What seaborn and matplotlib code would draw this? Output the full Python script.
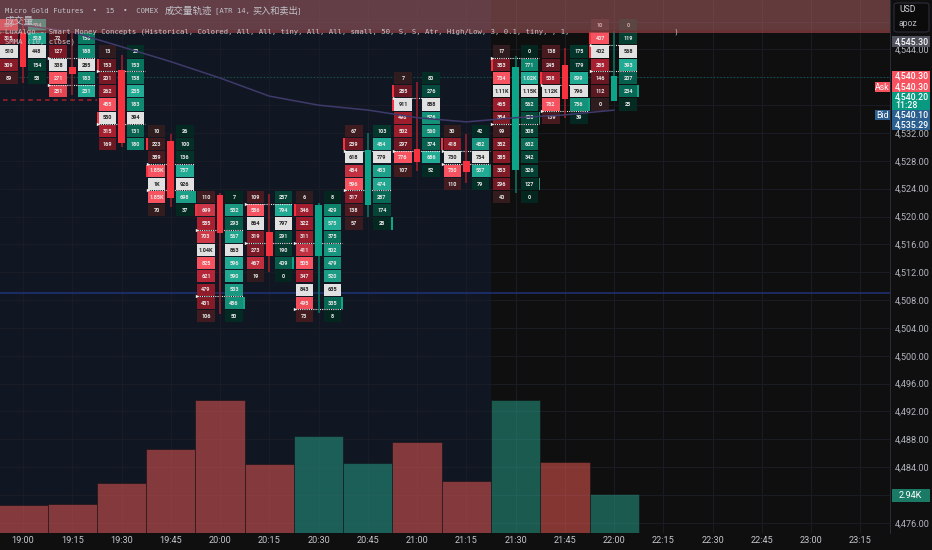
import numpy as np
import pandas as pd
import matplotlib.pyplot as plt
from matplotlib.patches import FancyBboxPatch, Rectangle
import seaborn as sns

# time axis
hours = ['19:00', '19:15', '19:30', '19:45', '20:00', '20:15', '20:30', '20:45', '21:00',
         '21:15', '21:30', '21:45', '22:00', '22:15', '22:30', '22:45', '23:00', '23:15']
bars = hours[:13]

# candles
opens = [4546.5, 4541.5, 4541.0, 4530.9, 4523.1, 4517.8, 4514.4, 4521.6, 4529.7, 4528.0, 4526.7, 4541.7, 4536.6]
closes = [4541.5, 4540.5, 4530.6, 4522.6, 4517.7, 4514.4, 4521.7, 4529.5, 4527.9, 4526.4, 4541.5, 4536.9, 4540.2]
highs = [4548.6, 4546.5, 4543.2, 4531.9, 4523.4, 4523.2, 4522.0, 4532.0, 4539.4, 4531.9, 4543.0, 4544.2, 4546.6]
lows = [4539.2, 4537.5, 4530.0, 4521.4, 4506.0, 4512.1, 4506.1, 4519.9, 4526.6, 4524.8, 4523.4, 4534.2, 4536.6]

# volume (thousands)
volume = [2.09, 2.16, 3.74, 6.33, 10.05, 5.20, 7.31, 5.30, 6.89, 3.92, 10.05, 5.38, 2.94]
direction = ['down', 'down', 'down', 'down', 'down', 'down', 'up', 'up', 'down', 'down', 'up', 'down', 'up']

# footprint rows, top row price of every bar then sell / buy per row
top_price = [4547.5, 4545.6, 4543.7, 4532.3, 4522.8, 4522.8, 4522.8, 4532.3, 4539.9, 4532.3, 4543.7, 4543.7, 4547.5]
sells = [
    [569, 315, 510, 309, 89],
    [72, 127, 338, 271, 251],
    [13, 153, 201, 262, 455, 550, 315, 169],
    [10, 223, 359, 1850, 1000, 1850, 70],
    [110, 699, 585, 703, 1040, 825, 621, 479, 431, 106],
    [109, 586, 864, 319, 273, 467, 19],
    [6, 346, 322, 311, 411, 505, 347, 843, 495, 73],
    [67, 239, 618, 484, 596, 317, 138, 57],
    [7, 285, 911, 498, 502, 297, 776, 107],
    [30, 418, 730, 730, 110],
    [17, 353, 734, 1110, 465, 354, 99, 352, 385, 353, 296, 40],
    [138, 245, 538, 1120, 782, 139],
    [10, 407, 402, 285, 146, 112, 0],
]
buys = [
    [534, 518, 448, 154, 58],
    [158, 188, 285, 183, 231],
    [29, 153, 158, 235, 183, 394, 131, 180],
    [26, 100, 136, 757, 926, 698, 37],
    [7, 532, 293, 567, 863, 596, 590, 533, 486, 50],
    [257, 794, 797, 291, 190, 409, 0],
    [8, 429, 575, 375, 502, 479, 520, 635, 335, 8],
    [103, 484, 779, 453, 474, 287, 174, 28],
    [80, 276, 888, 576, 560, 374, 686, 52],
    [42, 482, 754, 557, 79],
    [0, 771, 1020, 1150, 562, 408, 308, 632, 342, 326, 127, 0],
    [175, 179, 899, 796, 756, 39],
    [0, 119, 568, 393, 207, 234, 25],
]
poc_rows = [2, 2, 5, 4, 4, 2, 7, 2, 2, 2, 3, 3, 2]
value_area = [(1, None), (2, 4), (2, 6), (3, 5), (3, 8), (1, 4), (4, 9), (2, 5), (2, 6), (2, 3), (1, 6), (3, 5), (2, 4)]
sell_marks = [(0, 1), (2, 1), (2, 5), (3, 1), (3, 3), (4, 1), (6, 1), (7, 1), (8, 1), (8, 2), (9, 1), (10, 1), (11, 2), (12, 1), (12, 2)]
buy_marks = [(3, 5), (4, 8), (5, 5), (6, 8), (7, 7), (9, 3), (10, 5), (10, 10), (11, 4), (12, 5)]

# SMMA (10, close)
smma = [4547.5, 4546.5, 4544.4, 4542.25, 4539.9, 4537.3, 4536.0, 4535.3, 4534.2, 4533.6, 4534.2, 4534.6, 4535.29]

price_ticks = [4476, 4484, 4488, 4492, 4496, 4500, 4504, 4508, 4512, 4516, 4520, 4524, 4528, 4532, 4544]
grid_prices = [4476, 4480, 4484, 4488, 4492, 4496, 4500, 4504, 4508, 4512, 4516, 4520, 4524, 4528, 4532, 4536, 4540, 4544, 4548]

ROW = 1.9
BG = '#111722'
DARK = '#0f0f0f'
RED = '#f7323f'
GREEN = '#0ca58a'

red_shades = sns.blend_palette(['#2f1c1e', '#6e1823', '#a81f30', '#f7525f'], 101)
green_shades = sns.blend_palette(['#04261f', '#05483a', '#0a7d65', '#22ab94'], 101)

sns.set_theme(style='dark')
plt.rcParams['font.family'] = ['Roboto', 'DejaVu Sans']

fig = plt.figure(figsize=(9.32, 5.5), dpi=100, facecolor=DARK)
rect = [0, 17 / 550, 890 / 932, 533 / 550]
ax = fig.add_axes(rect, facecolor=BG, zorder=0)
ax.set_xlim(-0.467, 17.6)
ax.set_ylim(4474.53, 4551.11)

ax.axvspan(9.5, 17.6, color=DARK, lw=0, zorder=0)
ax.hlines(grid_prices, -0.467, 17.6, color='#1a1d26', lw=0.7, zorder=0.5)
ax.vlines(range(18), 4474.53, 4551.11, color='#1a1d26', lw=0.7, zorder=0.5)

# volume underneath the candles
vol_ax = fig.add_axes(rect, facecolor='none', zorder=1)
df = pd.DataFrame({'bar': bars, 'volume': volume, 'direction': direction})
sns.barplot(data=df, x='bar', y='volume', hue='direction', dodge=False, width=1.0, alpha=0.5, saturation=1,
            palette={'down': '#f75d56', 'up': '#27a58e'}, edgecolor='#0c0e13', linewidth=0.7,
            legend=False, ax=vol_ax)
vol_ax.set_xlim(-0.467, 17.6)
vol_ax.set_ylim(0, 10.05 * 533 / 133.3)
vol_ax.axis('off')

# top layer for footprint so that it stays over the volume panel
fp = fig.add_axes(rect, facecolor='none', zorder=2)
fp.set_xlim(-0.467, 17.6)
fp.set_ylim(4474.53, 4551.11)
fp.axis('off')


def short(v):
    if v >= 1000:
        return f'{v / 1000:.2f}'.rstrip('0').rstrip('.') + 'K'
    return str(v)


for i, (top, sell, buy, poc) in enumerate(zip(top_price, sells, buys, poc_rows)):
    for side, vals, shades, off in ((0, sell, red_shades, -0.285), (1, buy, green_shades, 0.285)):
        rest = [v for r, v in enumerate(vals) if r != poc]
        ref = max(rest)
        for r, v in enumerate(vals):
            price = top - ROW * r
            if r == poc:
                col, txt = '#e1e1e1', '#222222'
            else:
                col, txt = shades[int(100 * (v / ref) ** 1.15)], '#e8e8e8'
            fp.bar(i + off, ROW * 0.92, bottom=price - ROW * 0.46, width=0.355, color=col, lw=0, zorder=3)
            fp.text(i + off, price - 0.03, short(v), color=txt, fontsize=4.0, fontweight='bold',
                    ha='center', va='center', zorder=4)

    # value area lines
    for r in value_area[i]:
        if r is None:
            continue
        y = top + ROW / 2 - ROW * r
        fp.plot([i - 0.47, i + 0.47], [y, y], ls=(0, (1, 1)), color='#e6e6e6', lw=0.8, zorder=5)
        fp.plot(i - 0.47, y, marker='>', ms=2.4, color='#f0f0f0', mew=0, zorder=5)

for i, r in sell_marks:
    fp.bar(i - 0.485, ROW * 0.92, bottom=top_price[i] - ROW * r - ROW * 0.46, width=0.04, color=RED, lw=0, zorder=3)
for i, r in buy_marks:
    fp.bar(i + 0.485, ROW * 0.92, bottom=top_price[i] - ROW * r - ROW * 0.46, width=0.04, color=GREEN, lw=0, zorder=3)

# candles
for i in range(len(bars)):
    col = GREEN if closes[i] >= opens[i] else RED
    wick = '#067a67' if closes[i] >= opens[i] else '#a11f2c'
    fp.vlines(i, lows[i], highs[i], color=wick, lw=1.1, zorder=6)
    fp.bar(i, abs(closes[i] - opens[i]), bottom=min(opens[i], closes[i]), width=0.135, color=col, lw=0, zorder=7)

# overlays
fp.plot(range(13), smma, color='#3f3a6b', lw=1.1, zorder=8)
fp.hlines(4509.0, -0.467, 17.6, color='#1f3278', lw=1.1, zorder=2)
fp.hlines(4540.0, -0.467, 17.6, color='#0d5d50', lw=0.8, ls=(0, (1, 2)), zorder=2)
fp.hlines(4536.74, -0.4, 1.5, color='#a11f2c', lw=1.1, ls=(0, (3, 2.5)), zorder=2)

# indicator banner on top
fp.axhspan(4546.4, 4551.11, color='#b5666a', alpha=0.5, lw=0, zorder=9)
fp.axhspan(4546.4, 4546.85, color='#6e2c30', alpha=0.5, lw=0, zorder=9)

# axes
ax.set_xticks(range(18), hours)
ax.yaxis.tick_right()
ax.set_yticks(price_ticks, [f'{p:,.2f}' for p in price_ticks])
ax.tick_params(axis='x', length=0, pad=2.5, labelsize=6.6, labelcolor='#c4c6cc')
ax.tick_params(axis='y', length=0, pad=3.5, labelsize=6.6, labelcolor='#b2b5be')
for s in ax.spines.values():
    s.set_visible(False)
fig.add_artist(plt.Line2D([890 / 932, 890 / 932], [17 / 550, 1], color='#2a2e39', lw=0.7))

# header text
mono = ['DejaVu Sans Mono', 'Noto Sans CJK SC']
header = [
    ('Micro Gold Futures  •  15  •  COMEX  •', 5, 11, 5.2),
    ('成交量轨迹', 165, 11, 6.8),
    ('[ATR 14,', 215, 11, 5.2),
    ('买入和卖出', 252, 11, 6.6),
    (']', 297, 11, 5.2),
    ('成交量', 5, 21, 7.0),
    ('LuxAlgo - Smart Money Concepts (Historical, Colored, All, All, tiny, All, All, small, 50, S, S, Atr, High/Low, 3, 0.1, tiny, , 1,' + ' ' * 24 + ')', 5, 32, 5.2),
    ('SMMA (10, close)', 5, 42, 5.2),
]
for line, x, y, size in header:
    fig.text(x / 932, 1 - y / 550, line, family=mono, fontsize=size, color='#c2c4ca', va='center', zorder=10)

# price labels on the scale
labels = [
    ('4,545.30', 41.5, 10.5, '#50535e', 'white'),
    ('4,540.30', 76, 10.5, '#f7525f', 'white'),
    ('4,540.30', 86.5, 10.5, '#f7525f', 'white'),
    ('4,540.20\n11:28', 101, 19, '#089981', 'white'),
    ('4,540.10', 115, 9.5, '#2a5f8f', 'white'),
    ('4,535.29', 125, 9.5, '#2a5f8f', 'white'),
]
for txt, y, h, bg, fg in labels:
    fig.add_artist(Rectangle((891.5 / 932, 1 - (y + h / 2) / 550), 38 / 932, h / 550, transform=fig.transFigure,
                             facecolor=bg, lw=0, zorder=11))
    fig.text(895 / 932, 1 - y / 550, txt, color=fg, fontsize=6.3, fontweight='medium', va='center', ha='left',
             zorder=12, linespacing=1.0)

for txt, y, bg in (('Ask', 87, '#f7525f'), ('Bid', 115, '#2a5f8f')):
    fig.add_artist(Rectangle((875 / 932, 1 - (y + 5) / 550), 15 / 932, 10 / 550, transform=fig.transFigure,
                             facecolor=bg, lw=0, zorder=11))
    fig.text(882.5 / 932, 1 - y / 550, txt, color='white', fontsize=6.3, va='center', ha='center', zorder=12)

fig.add_artist(Rectangle((891.5 / 932, 1 - 501.5 / 550), 38 / 932, 13 / 550, transform=fig.transFigure,
                         facecolor='#1b7a66', lw=0, zorder=11))
fig.text(910 / 932, 1 - 495 / 550, '2.94K', color='white', fontsize=6.6, va='center', ha='center', zorder=12)

# currency box
fig.add_artist(FancyBboxPatch((894 / 932, 1 - 32 / 550), 35 / 932, 29 / 550, boxstyle='round,pad=0,rounding_size=0.004',
                              transform=fig.transFigure, facecolor='#0b0b0b', edgecolor='#2a2e39', lw=0.8, zorder=11))
fig.text(899 / 932, 1 - 10 / 550, 'USD', color='#d1d4dc', fontsize=6.2, va='center', zorder=12)
fig.text(899 / 932, 1 - 24 / 550, 'apoz', color='#b2b5be', fontsize=6.2, va='center', zorder=12)

fig.savefig('out.png', dpi=100, facecolor=DARK)
